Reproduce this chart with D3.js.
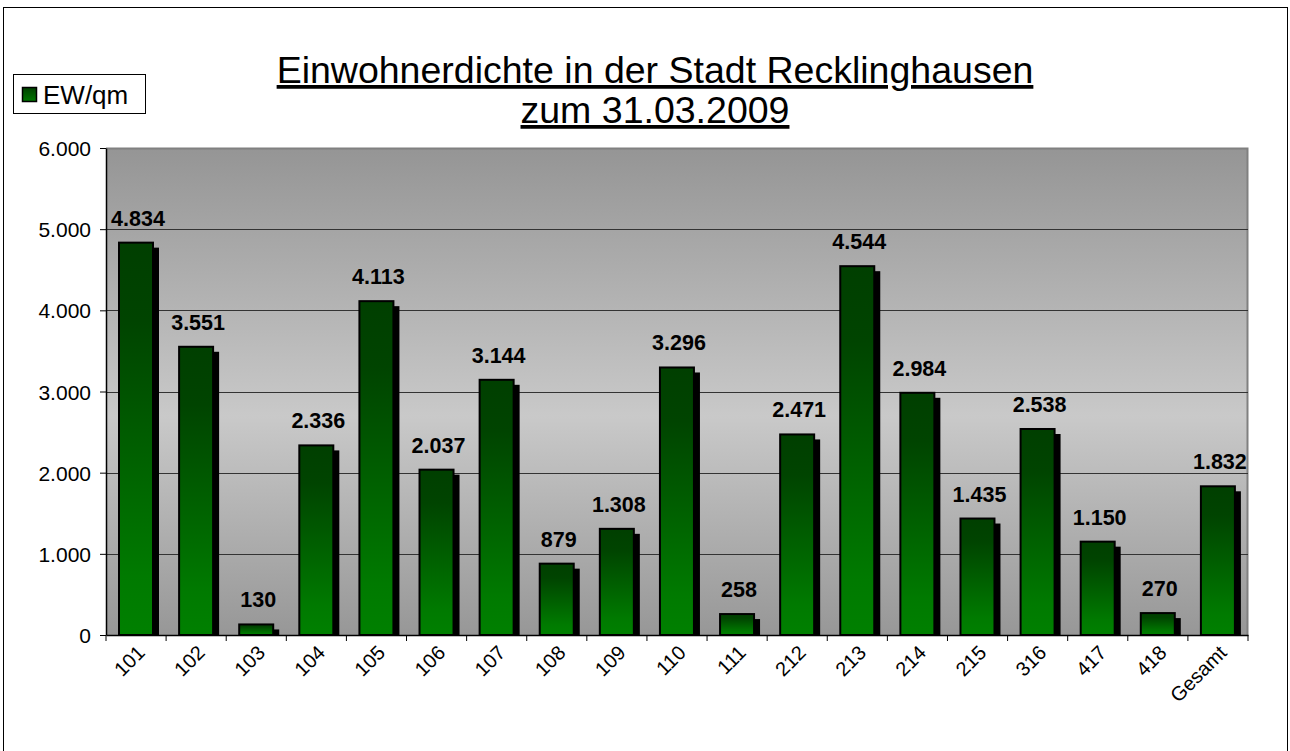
<!DOCTYPE html>
<html>
<head>
<meta charset="utf-8">
<script src="https://cdn.jsdelivr.net/npm/d3@7"></script>
<style>
  body { margin: 0; background: #fff; }
  svg text { font-family: "Liberation Sans", Arial, sans-serif; }
</style>
</head>
<body>
<div id="chart"></div>
<script>
// chart data
var districts = ["101", "102", "103", "104", "105", "106", "107", "108", "109", "110",
                 "111", "212", "213", "214", "215", "316", "417", "418", "Gesamt"];
var density = [4834, 3551, 130, 2336, 4113, 2037, 3144, 879, 1308, 3296,
               258, 2471, 4544, 2984, 1435, 2538, 1150, 270, 1832];
var yTicks = [0, 1000, 2000, 3000, 4000, 5000, 6000];
var titleLines = ["Einwohnerdichte in der Stadt Recklinghausen", "zum 31.03.2009"];
var seriesName = "EW/qm";

var W = 1290, H = 751;
var margin = { top: 148, right: 42, bottom: 116, left: 106 },
    width = W - margin.left - margin.right,
    height = H - margin.top - margin.bottom;

var fmt = function(v) { return d3.format(",")(v).replace(/,/g, "."); };

var svg = d3.select("#chart").append("svg")
    .attr("width", W)
    .attr("height", H);

var defs = svg.append("defs");
var bg = defs.append("linearGradient").attr("id", "bg").attr("x1", 0).attr("y1", 0).attr("x2", 0).attr("y2", 1);
bg.append("stop").attr("offset", "0%").attr("stop-color", "#959595");
bg.append("stop").attr("offset", "55%").attr("stop-color", "#c9c9c9");
bg.append("stop").attr("offset", "100%").attr("stop-color", "#979797");

var barGrad = defs.append("linearGradient").attr("id", "barGrad").attr("x1", 0).attr("y1", 0).attr("x2", 0).attr("y2", 1);
barGrad.append("stop").attr("offset", "0%").attr("stop-color", "#003f00");
barGrad.append("stop").attr("offset", "20%").attr("stop-color", "#004400");
barGrad.append("stop").attr("offset", "85%").attr("stop-color", "#007a00");
barGrad.append("stop").attr("offset", "100%").attr("stop-color", "#008000");

var legGrad = defs.append("linearGradient").attr("id", "legGrad").attr("x1", 0).attr("y1", 0).attr("x2", 0).attr("y2", 1);
legGrad.append("stop").attr("offset", "0%").attr("stop-color", "#004000");
legGrad.append("stop").attr("offset", "100%").attr("stop-color", "#007800");

// outer frame
svg.append("rect")
    .attr("x", 3.5).attr("y", 7.5)
    .attr("width", W - 6).attr("height", H)
    .attr("fill", "#fff").attr("stroke", "#000").attr("stroke-width", 1);

// title
var title = svg.append("g").attr("class", "title");
titleLines.forEach(function(t, i) {
    title.append("text")
        .attr("x", 655)
        .attr("y", 83 + i * 40)
        .attr("text-anchor", "middle")
        .style("font-size", "37.5px")
        .style("text-decoration", "underline")
        .text(t);
});

// legend
var legend = svg.append("g").attr("class", "legend");
legend.append("rect")
    .attr("x", 13.5).attr("y", 74.5).attr("width", 132).attr("height", 39)
    .attr("fill", "#fff").attr("stroke", "#000");
legend.append("rect")
    .attr("x", 22.5).attr("y", 87.5).attr("width", 14).attr("height", 14)
    .attr("fill", "url(#legGrad)").attr("stroke", "#000").attr("stroke-width", 1.5);
legend.append("text")
    .attr("x", 43).attr("y", 104)
    .style("font-size", "26px")
    .text(seriesName);

var g = svg.append("g")
    .attr("transform", "translate(" + margin.left + "," + margin.top + ")");

var x = d3.scaleBand().domain(districts).range([0, width]).paddingInner(0).paddingOuter(0);
var y = d3.scaleLinear().domain([0, 6000]).range([height, 0]);

// plot area
g.append("rect")
    .attr("width", width).attr("height", height)
    .attr("fill", "url(#bg)");
g.append("path")
    .attr("d", "M0,0.5H" + (width - 0.5) + "V" + height)
    .attr("fill", "none").attr("stroke", "#808080").attr("stroke-width", 2);

// gridlines
g.selectAll(".grid")
    .data(yTicks.filter(function(d) { return d > 0 && d < 6000; }))
    .enter().append("line")
    .attr("class", "grid")
    .attr("x1", 0).attr("x2", width)
    .attr("y1", function(d) { return Math.round(y(d)) + 0.5; })
    .attr("y2", function(d) { return Math.round(y(d)) + 0.5; })
    .attr("stroke", "#333").attr("stroke-width", 1);

var bw = 34, off = 13;

// shadows
g.selectAll(".shadow")
    .data(density)
    .enter().append("rect")
    .attr("class", "shadow")
    .attr("x", function(d, i) { return x(districts[i]) + off + 6; })
    .attr("y", function(d) { return y(d) + 5; })
    .attr("width", bw)
    .attr("height", function(d) { return height - y(d) - 5; })
    .attr("fill", "#000");

// bars
g.selectAll(".bar")
    .data(density)
    .enter().append("rect")
    .attr("class", "bar")
    .attr("x", function(d, i) { return x(districts[i]) + off; })
    .attr("y", function(d) { return y(d); })
    .attr("width", bw)
    .attr("height", function(d) { return height - y(d); })
    .attr("fill", "url(#barGrad)")
    .attr("stroke", "#000").attr("stroke-width", 2);

// value labels
g.selectAll(".val")
    .data(density)
    .enter().append("text")
    .attr("class", "val")
    .attr("x", function(d, i) { return x(districts[i]) + off + bw / 2 + 2; })
    .attr("y", function(d) { return y(d) - 17; })
    .attr("text-anchor", "middle")
    .style("font-size", "21.5px")
    .style("font-weight", "bold")
    .text(fmt);

// axes
var yAxis = d3.axisLeft(y).tickValues(yTicks).tickFormat(fmt).tickSize(6).tickSizeOuter(0);
var yG = g.append("g").call(yAxis);
yG.select(".domain").attr("stroke", "#000").attr("stroke-width", 1.5);
yG.selectAll("text").style("font-size", "21px").attr("x", -15).attr("dy", "0.36em");

var xAxis = d3.axisBottom(x).tickSize(0).tickFormat("");
var xG = g.append("g").attr("transform", "translate(0," + height + ")").call(xAxis);
xG.select(".domain").attr("stroke", "#000").attr("stroke-width", 1.5);
xG.selectAll(".bticks")
    .data(districts.concat([null]))
    .enter().append("line")
    .attr("x1", function(d, i) { return i * x.bandwidth(); })
    .attr("x2", function(d, i) { return i * x.bandwidth(); })
    .attr("y1", 0).attr("y2", 6)
    .attr("stroke", "#000");

xG.selectAll(".xl")
    .data(districts)
    .enter().append("text")
    .attr("class", "xl")
    .attr("text-anchor", "end")
    .attr("transform", function(d) {
        return "translate(" + (x(d) + x.bandwidth() / 2 + 10) + ",19) rotate(-45)";
    })
    .style("font-size", "20px")
    .attr("fill", "#000")
    .text(function(d) { return d; });
</script>
</body>
</html>
